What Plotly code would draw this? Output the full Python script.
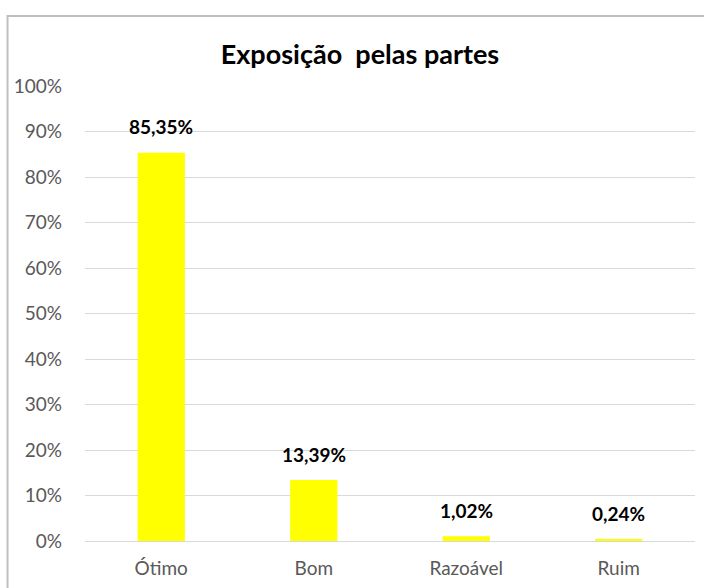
import plotly.graph_objects as go

categorias = ["Ótimo", "Bom", "Razoável", "Ruim"]
valores = [85.35, 13.39, 1.02, 0.24]
rotulos = ["85,35%", "13,39%", "1,02%", "0,24%"]
ticks_y = list(range(0, 101, 10))
ticks_y_txt = [f"{t}%" for t in ticks_y]

FONTE = "Lato, 'Open Sans', sans-serif"
AMARELO = "#ffff00"
CINZA_TXT = "#595959"
CINZA_GRADE = "#d9d9d9"

fig = go.Figure(
    go.Bar(
        x=categorias,
        y=valores,
        width=0.31,
        marker={"color": AMARELO, "line": {"width": 0}},
        hoverinfo="skip",
    )
)

# rotulos de dados acima das barras
for cat, val, txt in zip(categorias, valores, rotulos):
    fig.add_annotation(
        x=cat,
        y=val,
        text=f"<b>{txt}</b>",
        showarrow=False,
        yshift=26,
        font={"family": FONTE, "size": 19, "color": "#000000"},
    )

# moldura do grafico (estilo Excel)
fig.add_shape(
    type="rect",
    xref="paper",
    yref="paper",
    x0=-0.127,
    x1=1.2,
    y0=-0.3,
    y1=1.154,
    line={"color": "#bfbfbf", "width": 2},
    layer="below",
)

fig.update_layout(
    width=704,
    height=588,
    margin={"l": 85, "r": 9, "t": 86, "b": 45},
    paper_bgcolor="white",
    plot_bgcolor="white",
    showlegend=False,
    bargap=0.69,
    font={"family": FONTE, "color": CINZA_TXT, "size": 19},
    title={
        "text": "<b>Exposição  pelas partes</b>",
        "x": 360 / 704,
        "xanchor": "center",
        "y": 1 - 55 / 588,
        "yanchor": "middle",
        "font": {"family": FONTE, "size": 27, "color": "#000000"},
    },
    xaxis={
        "showgrid": False,
        "showline": False,
        "ticks": "",
        "ticklabelstandoff": 14,
        "tickfont": {"size": 19, "color": CINZA_TXT},
    },
    yaxis={
        "range": [0, 100],
        "tickvals": ticks_y,
        "ticktext": ticks_y_txt,
        "showgrid": True,
        "gridcolor": CINZA_GRADE,
        "gridwidth": 1,
        "zeroline": True,
        "zerolinecolor": CINZA_GRADE,
        "zerolinewidth": 1,
        "showline": False,
        "ticks": "",
        "ticklabelstandoff": 22,
        "tickfont": {"size": 19, "color": CINZA_TXT},
    },
)

fig.write_html(
    "out.html",
    config={"displayModeBar": False},
    post_script="document.body.style.margin='0';document.body.style.overflow='hidden';",
)
